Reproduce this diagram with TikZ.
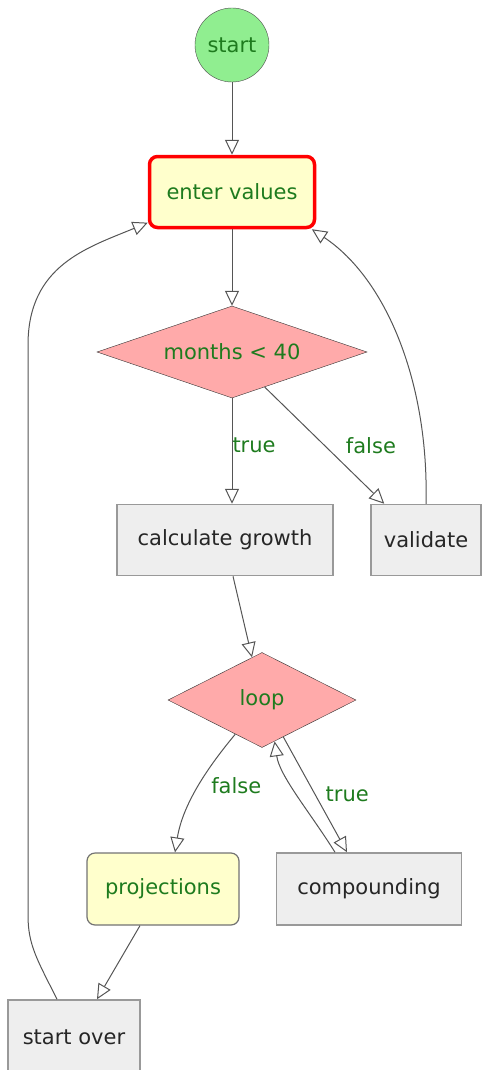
\documentclass[tikz,border=0pt]{standalone}
\usepackage{fontspec}
\setmainfont{DejaVu Sans}
\usetikzlibrary{shapes.geometric}
\usetikzlibrary{arrows.meta}

\definecolor{textgreen}{HTML}{1E7B1E}
\definecolor{startgreen}{HTML}{90EE90}
\definecolor{notefill}{HTML}{FFFFCC}
\definecolor{decisionfill}{HTML}{FFAAAA}
\definecolor{taskfill}{HTML}{EEEEEE}
\definecolor{edgegray}{HTML}{555555}

\tikzset{
  every node/.style = {font=\fontsize{21}{25}\selectfont, inner sep=0pt},
  startnode/.style = {shape=circle, draw=black!70, fill=startgreen, text=textgreen, minimum size=74pt},
  enterbox/.style = {shape=rectangle, rounded corners=8pt, draw=red, line width=3.5pt, fill=notefill, text=textgreen},
  decision/.style = {shape=diamond, draw=black!80, fill=decisionfill, text=textgreen},
  taskbox/.style = {shape=rectangle, draw=black!40, line width=1.5pt, fill=taskfill, text=black!85, minimum height=71pt},
  endbox/.style = {shape=rectangle, rounded corners=8pt, draw=black!55, line width=1.2pt, fill=notefill, text=textgreen},
  flow/.style = {-{Triangle[open, length=15pt, width=14pt]}, edgegray, line width=1pt},
  edgelabel/.style = {text=textgreen}
}

\begin{document}
\begin{tikzpicture}[x=1pt, y=-1pt]
  \clip (0,0) rectangle (483,1070);
  \node [startnode] (start) at (232,45) {start};
  \node [enterbox, minimum width=165pt, minimum height=71pt] (enter) at (232,192) {enter values};
  \node [decision, shape aspect=2.9, minimum width=270pt, minimum height=92pt] (months) at (232,352) {months < 40};
  \node [taskbox, minimum width=216pt] (calc) at (225,540) {calculate growth};
  \node [taskbox, minimum width=110pt] (validate) at (426,540) {validate};
  \node [decision, shape aspect=2, minimum width=188pt, minimum height=95pt] (loop) at (262,700) {loop};
  \node [endbox, minimum width=152pt, minimum height=72pt] (proj) at (163,889) {projections};
  \node [taskbox, minimum width=185pt, minimum height=72pt] (comp) at (369,889) {compounding};
  \node [taskbox, minimum width=132pt, minimum height=74pt] (over) at (74,1037) {start over};

  \draw [flow] (start) -- (enter);
  \draw [flow] (enter) -- (months);
  \draw [flow] (months.south) -- (months.south |- calc.north) node [edgelabel, right, pos=0.45] {true};
  \draw [flow] (months.-47) -- ([xshift=14pt]validate.north west) node [edgelabel, right, midway, xshift=21pt] {false};
  \draw [flow] (validate.north) .. controls +(3,-120) and +(75,50) .. (enter.-25);
  \draw [flow] ([xshift=8pt]calc.south) -- (loop);
  \draw [flow] (loop.-128) .. controls +(-25,30) and +(8,-50) .. ([xshift=12pt]proj.north) node [edgelabel, right, pos=0.5, xshift=12pt] {false};
  \draw [flow] (loop.-60) -- ([xshift=-22pt]comp.north) node [edgelabel, right, midway, xshift=10pt] {true};
  \draw [flow] ([xshift=-34pt]comp.north) .. controls +(-25,-40) and +(5,35) .. (loop.-73);
  \draw [flow] ([xshift=-23pt]proj.south) -- ([xshift=23pt]over.north);
  \draw [flow] ([xshift=-17pt]over.north) .. controls +(-20,-40) and +(0,30) .. (28,915) -- (28,345) .. controls +(0,-80) and +(-60,25) .. (enter.-160);
\end{tikzpicture}
\end{document}
